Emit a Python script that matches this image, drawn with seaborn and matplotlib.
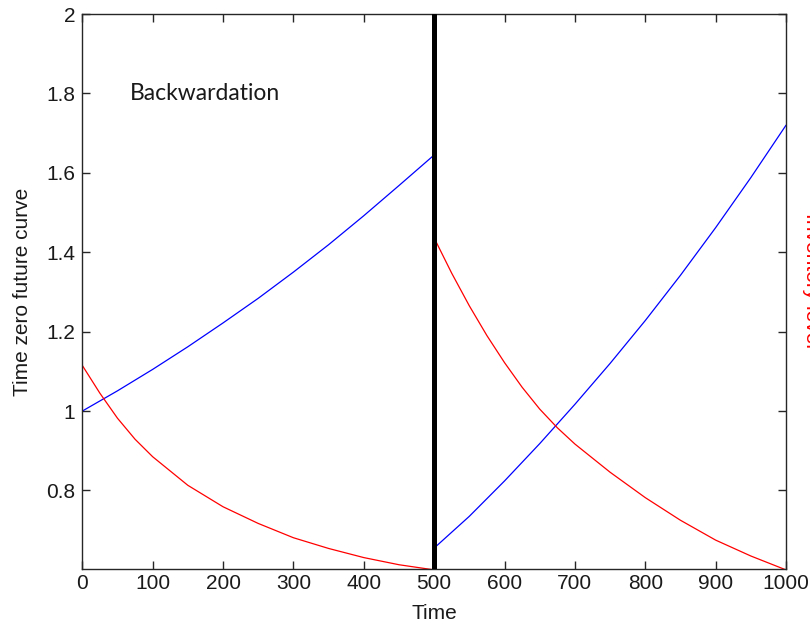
import numpy as np
import pandas as pd
import matplotlib
matplotlib.use("Agg")
import matplotlib.pyplot as plt
import seaborn as sns

# ---- data ----
t_first = [0, 50, 100, 150, 200, 250, 300, 350, 400, 450, 500]
futures_first = [1.0, 1.051, 1.105, 1.162, 1.222, 1.284, 1.35, 1.419, 1.492, 1.568, 1.645]
t_second = [500, 550, 600, 650, 700, 750, 800, 850, 900, 950, 1000]
futures_second = [0.655, 0.735, 0.824, 0.918, 1.017, 1.12, 1.228, 1.342, 1.462, 1.588, 1.72]

t_inv_first = [0, 25, 50, 75, 100, 150, 200, 250, 300, 350, 400, 450, 500]
inventory_first = [1.115, 1.045, 0.982, 0.929, 0.885, 0.813, 0.759, 0.717, 0.681,
                   0.654, 0.631, 0.613, 0.600]
t_inv_second = [500, 525, 550, 575, 600, 625, 650, 675, 700, 750, 800, 850, 900, 950, 1000]
inventory_second = [1.436, 1.347, 1.265, 1.19, 1.122, 1.06, 1.005, 0.958, 0.917,
                    0.846, 0.782, 0.725, 0.675, 0.635, 0.600]

switch_time = [500]
x_ticks = [0, 100, 200, 300, 400, 500, 600, 700, 800, 900, 1000]
y_ticks = [0.8, 1.0, 1.2, 1.4, 1.6, 1.8, 2.0]
y_tick_labels = ["0.8", "1", "1.2", "1.4", "1.6", "1.8", "2"]
annotation = "Backwardation"

sns.set_style("ticks")
plt.rcParams["font.family"] = ["Liberation Sans Narrow", "Liberation Sans", "DejaVu Sans"]

fig = plt.figure(figsize=(8.1, 6.29), dpi=100)
ax = fig.add_axes([0.1016, 0.0946, 0.8688, 0.8831])

df_f1 = pd.DataFrame({"t": t_first, "v": futures_first})
df_f2 = pd.DataFrame({"t": t_second, "v": futures_second})
df_i1 = pd.DataFrame({"t": t_inv_first, "v": inventory_first})
df_i2 = pd.DataFrame({"t": t_inv_second, "v": inventory_second})

lw = 0.9
sns.lineplot(data=df_f1, x="t", y="v", ax=ax, color="#0000ff", lw=lw, estimator=None, sort=False)
sns.lineplot(data=df_f2, x="t", y="v", ax=ax, color="#0000ff", lw=lw, estimator=None, sort=False)
sns.lineplot(data=df_i1, x="t", y="v", ax=ax, color="#ff0000", lw=lw, estimator=None, sort=False)
sns.lineplot(data=df_i2, x="t", y="v", ax=ax, color="#ff0000", lw=lw, estimator=None, sort=False)

for s in switch_time:
    ax.axvline(s, color="black", lw=3.6, zorder=5)

ax.set_xlim(0, 1000)
ax.set_ylim(0.601, 2.0)
ax.set_xticks(x_ticks)
ax.set_xticklabels([str(v) for v in x_ticks])
ax.set_yticks(y_ticks)
ax.set_yticklabels(y_tick_labels)

for sp in ax.spines.values():
    sp.set_visible(True)
    sp.set_color("#262626")
    sp.set_linewidth(1.0)

ax.tick_params(axis="x", which="both", direction="in", length=6, width=1.0,
               top=True, color="#262626", labelsize=15, labelcolor="#1a1a1a", pad=3)
ax.tick_params(axis="y", which="both", direction="in", length=6, width=1.0,
               right=True, color="#262626", labelsize=15, labelcolor="#1a1a1a", pad=5)

ax.set_xlabel("Time", fontsize=15, color="#1a1a1a", labelpad=8)
ax.set_ylabel("Time zero future curve", fontsize=15, color="#1a1a1a", labelpad=10)

ax.text(68, 1.8, annotation, fontsize=16.5, family=["Lato", "DejaVu Sans"],
        color="#1a1a1a", ha="left", va="center")

# right (inventory) axis label, partly outside the canvas like the reference
fig.text(802 / 810, 1 - 280 / 629, "Inventory level", rotation=-90, color="#ff0000",
         fontsize=15, ha="left", va="center")

fig.savefig("out.png", dpi=100)
